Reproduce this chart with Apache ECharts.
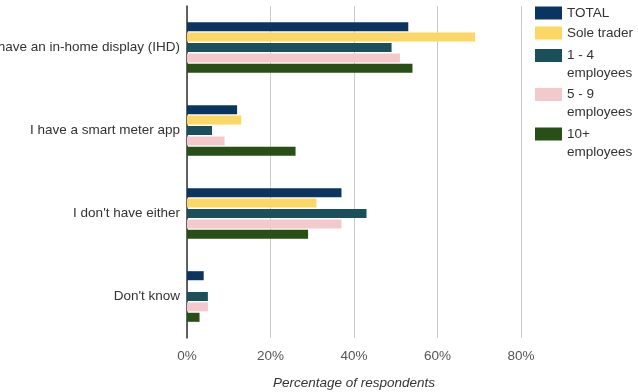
<!DOCTYPE html>
<html><head><meta charset="utf-8">
<script src="https://cdn.jsdelivr.net/npm/echarts@6/dist/echarts.min.js"></script>
<style>html,body{margin:0;padding:0;background:#fff}#c{width:638px;height:392px}</style>
</head><body><div id="c"></div>
<script>
const categories = ["I have an in-home display (IHD)", "I have a smart meter app", "I don't have either", "Don't know"];
const seriesNames = ["TOTAL", "Sole trader", "1 - 4\nemployees", "5 - 9\nemployees", "10+\nemployees"];
const total = [53, 12, 37, 4];
const soleTrader = [69, 13, 31, 0];
const emp1to4 = [49, 6, 43, 5];
const emp5to9 = [51, 9, 37, 5];
const emp10plus = [54, 26, 29, 3];
const xTicks = [0, 20, 40, 60, 80];
const colors = ["#0c3461", "#fdd764", "#1a4f5c", "#f3c9cb", "#284f15"];

const values = [total, soleTrader, emp1to4, emp5to9, emp10plus];
const legendTops = [4, 24, 28.5, 67.5, 107];

const chart = echarts.init(document.getElementById('c'), null, {renderer: 'canvas'});
const font = 'Liberation Sans, Arial, sans-serif';
chart.setOption({
  animation: false,
  color: colors,
  grid: {left: 187, right: 117, top: 6, bottom: 54, containLabel: false, outerBoundsMode: 'none'},
  legend: seriesNames.map((n, i) => ({
    data: [n],
    orient: 'vertical',
    left: 535,
    top: legendTops[i],
    padding: 0,
    itemWidth: 27,
    itemHeight: 13,
    icon: 'rect',
    selectedMode: false,
    formatter: (name) => name.indexOf('\n') >= 0 ? '\n' + name : name,
    textStyle: {fontFamily: font, fontSize: 13.5, color: '#333', lineHeight: 18}
  })),
  xAxis: {
    type: 'value', min: 0, max: 80, interval: 20,
    name: 'Percentage of respondents', nameLocation: 'middle', nameGap: 38,
    nameTextStyle: {fontFamily: font, fontSize: 13.5, fontStyle: 'italic', color: '#333'},
    axisLine: {show: false}, axisTick: {show: false},
    axisLabel: {fontFamily: font, fontSize: 13.5, color: '#555', margin: 11,
      formatter: v => xTicks.indexOf(v) >= 0 ? v + '%' : ''},
    splitLine: {show: true, lineStyle: {color: '#cccccc', width: 1}}
  },
  yAxis: {
    type: 'category', data: categories, inverse: true,
    axisLine: {show: true, lineStyle: {color: '#333', width: 1.5}},
    axisTick: {show: false},
    axisLabel: {fontFamily: font, fontSize: 13.5, color: '#333', margin: 7}
  },
  series: seriesNames.map((n, i) => ({
    name: n, type: 'bar', data: values[i],
    barGap: '15%', barCategoryGap: '39%'
  }))
});
</script></body></html>
